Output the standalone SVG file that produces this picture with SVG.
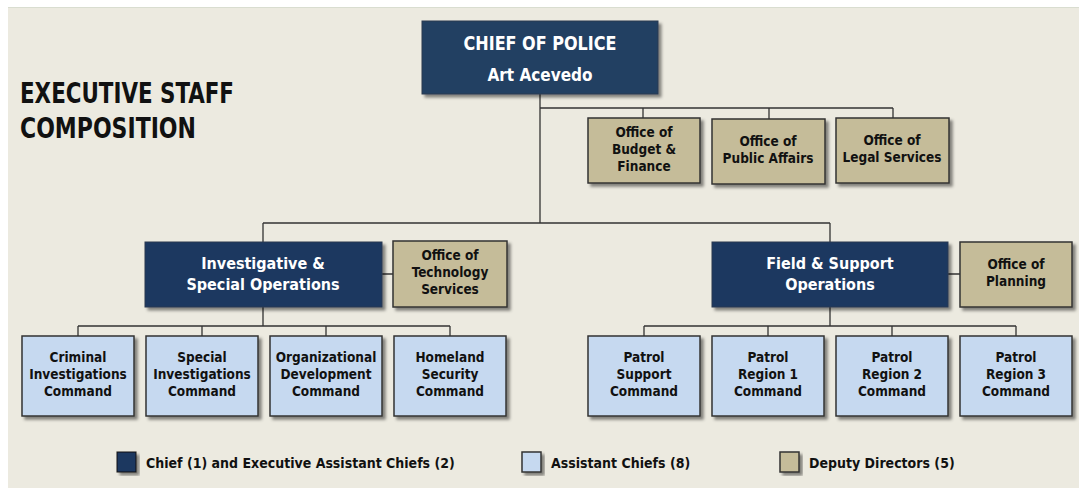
<svg xmlns="http://www.w3.org/2000/svg" width="1079" height="488" viewBox="0 0 1079 488">
<defs>
<filter id="sh" x="-10%" y="-10%" width="130%" height="130%">
<feDropShadow dx="3" dy="3" stdDeviation="1.5" flood-color="#000" flood-opacity="0.45"/>
</filter>
<style>
.navy{fill:#1d3961;stroke:#2a3a50;stroke-width:1}
.lb{fill:#c6d9f0;stroke:#333;stroke-width:1.5}
.tan{fill:#c5bc99;stroke:#333;stroke-width:1.5}
.ln{fill:none;stroke:#333;stroke-width:1.3}
text{font-family:"DejaVu Sans Condensed","DejaVu Sans",sans-serif;font-weight:bold;text-anchor:middle}
.w{fill:#fff;font-size:16px}
.k{fill:#111;font-size:13.5px}
.title{fill:#111;font-size:29px;text-anchor:start}
.leg{fill:#111;font-size:14px;text-anchor:start}
</style>
</defs>
<rect x="0" y="0" width="1079" height="488" fill="#fff"/>
<rect x="8" y="7" width="1071" height="481" fill="#ECEAE0"/>
<line x1="8" y1="7.5" x2="1079" y2="7.5" stroke="#d9ddd0" stroke-width="1"/>

<g id="title">
<text class="title" x="20" y="103" textLength="214" lengthAdjust="spacingAndGlyphs">EXECUTIVE STAFF</text>
<text class="title" x="20" y="138" textLength="176" lengthAdjust="spacingAndGlyphs">COMPOSITION</text>
</g>

<g id="connectors">
<path class="ln" d="M540 94V223M263 223H830M263 223V242M830 223V242"/>
<path class="ln" d="M540 108H893M643 108V118M769 108V119M893 108V118"/>
<path class="ln" d="M382 274H393M948 274H960"/>
<path class="ln" d="M263 307V326M78 326H450M78 326V336M202 326V336M326 326V336M450 326V336"/>
<path class="ln" d="M830 307V326M644 326H1016M644 326V336M768 326V336M892 326V336M1016 326V336"/>
</g>

<g id="chief">
<rect class="navy" x="422" y="21" width="236" height="73" filter="url(#sh)" style="fill:#233f62"/>
<text class="w" x="540" y="50" style="font-size:19px" textLength="153" lengthAdjust="spacingAndGlyphs">CHIEF OF POLICE</text>
<text class="w" x="540" y="81" style="font-size:17px">Art Acevedo</text>
</g>

<g id="budget">
<rect class="tan" x="588" y="118" width="112" height="65" filter="url(#sh)"/>
<text class="k" x="644" y="137">Office of</text>
<text class="k" x="644" y="154">Budget &amp;</text>
<text class="k" x="644" y="171">Finance</text>
</g>
<g id="public">
<rect class="tan" x="712" y="119" width="113" height="65" filter="url(#sh)"/>
<text class="k" x="768" y="146">Office of</text>
<text class="k" x="768" y="163">Public Affairs</text>
</g>
<g id="legal">
<rect class="tan" x="836" y="118" width="113" height="65" filter="url(#sh)"/>
<text class="k" x="892" y="145">Office of</text>
<text class="k" x="892" y="162">Legal Services</text>
</g>

<g id="iso">
<rect class="navy" x="145" y="242" width="237" height="65" filter="url(#sh)"/>
<text class="w" x="263" y="269">Investigative &amp;</text>
<text class="w" x="263" y="290">Special Operations</text>
</g>
<g id="tech">
<rect class="tan" x="393" y="241" width="114" height="66" filter="url(#sh)"/>
<text class="k" x="450" y="260">Office of</text>
<text class="k" x="450" y="277">Technology</text>
<text class="k" x="450" y="294">Services</text>
</g>
<g id="fso">
<rect class="navy" x="712" y="242" width="236" height="65" filter="url(#sh)"/>
<text class="w" x="830" y="269">Field &amp; Support</text>
<text class="w" x="830" y="290">Operations</text>
</g>
<g id="planning">
<rect class="tan" x="960" y="242" width="112" height="65" filter="url(#sh)"/>
<text class="k" x="1016" y="269">Office of</text>
<text class="k" x="1016" y="286">Planning</text>
</g>

<g id="criminal">
<rect class="lb" x="22" y="336" width="112" height="80" filter="url(#sh)"/>
<text class="k" x="78" y="362">Criminal</text>
<text class="k" x="78" y="379">Investigations</text>
<text class="k" x="78" y="396">Command</text>
</g>
<g id="special">
<rect class="lb" x="146" y="336" width="112" height="80" filter="url(#sh)"/>
<text class="k" x="202" y="362">Special</text>
<text class="k" x="202" y="379">Investigations</text>
<text class="k" x="202" y="396">Command</text>
</g>
<g id="orgdev">
<rect class="lb" x="270" y="336" width="112" height="80" filter="url(#sh)"/>
<text class="k" x="326" y="362">Organizational</text>
<text class="k" x="326" y="379">Development</text>
<text class="k" x="326" y="396">Command</text>
</g>
<g id="homeland">
<rect class="lb" x="394" y="336" width="112" height="80" filter="url(#sh)"/>
<text class="k" x="450" y="362">Homeland</text>
<text class="k" x="450" y="379">Security</text>
<text class="k" x="450" y="396">Command</text>
</g>
<g id="patrolsupport">
<rect class="lb" x="588" y="336" width="112" height="80" filter="url(#sh)"/>
<text class="k" x="644" y="362">Patrol</text>
<text class="k" x="644" y="379">Support</text>
<text class="k" x="644" y="396">Command</text>
</g>
<g id="region1">
<rect class="lb" x="712" y="336" width="112" height="80" filter="url(#sh)"/>
<text class="k" x="768" y="362">Patrol</text>
<text class="k" x="768" y="379">Region 1</text>
<text class="k" x="768" y="396">Command</text>
</g>
<g id="region2">
<rect class="lb" x="836" y="336" width="112" height="80" filter="url(#sh)"/>
<text class="k" x="892" y="362">Patrol</text>
<text class="k" x="892" y="379">Region 2</text>
<text class="k" x="892" y="396">Command</text>
</g>
<g id="region3">
<rect class="lb" x="960" y="336" width="112" height="80" filter="url(#sh)"/>
<text class="k" x="1016" y="362">Patrol</text>
<text class="k" x="1016" y="379">Region 3</text>
<text class="k" x="1016" y="396">Command</text>
</g>

<g id="legend">
<rect class="navy" x="117" y="452" width="19" height="20" filter="url(#sh)" style="stroke:#111"/>
<text class="leg" x="146" y="468">Chief (1) and Executive Assistant Chiefs (2)</text>
<rect class="lb" x="522" y="452" width="19" height="20" filter="url(#sh)"/>
<text class="leg" x="551" y="468">Assistant Chiefs (8)</text>
<rect class="tan" x="780" y="452" width="19" height="20" filter="url(#sh)"/>
<text class="leg" x="809" y="468">Deputy Directors (5)</text>
</g>
</svg>
